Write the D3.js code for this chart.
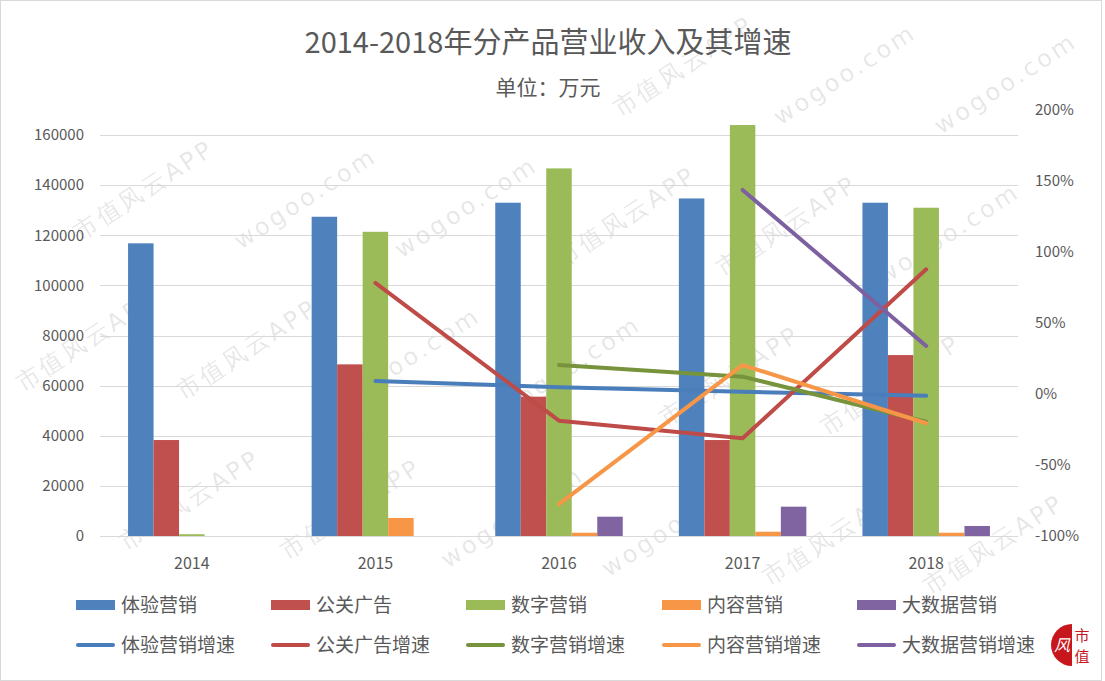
<!DOCTYPE html>
<html>
<head>
<meta charset="utf-8">
<script src="https://cdn.jsdelivr.net/npm/d3@7"></script>
<style>
  body { margin: 0; background: #fff; }
  svg { display: block; font-family: "Noto Sans CJK SC", "Noto Sans", sans-serif; }
</style>
</head>
<body>
<svg id="chart" width="1105" height="681"></svg>
<script>
// categories
var years = ["2014", "2015", "2016", "2017", "2018"];

// bar series, 万元
var barNames = ["体验营销", "公关广告", "数字营销", "内容营销", "大数据营销"];
var tiyan    = [116800, 127400, 133000, 134700, 133000];
var gongguan = [38300, 68500, 55600, 38300, 72200];
var shuzi    = [700, 121400, 146700, 164000, 131000];
var neirong  = [0, 7200, 1300, 1700, 1300];
var dashuju  = [0, 0, 7700, 11700, 4000];

// growth series, %
var lineNames = ["体验营销增速", "公关广告增速", "数字营销增速", "内容营销增速", "大数据营销增速"];
var tiyanG    = [null, 9.2, 4.7, 1.6, -1.2];
var gongguanG = [null, 78.2, -18.8, -31.2, 87.8];
var shuziG    = [null, null, 20.4, 12.2, -19.5];
var neirongG  = [null, null, -77.5, 20.4, -20.6];
var dashujuG  = [null, null, null, 143.7, 33.8];

var leftTicks = [0, 20000, 40000, 60000, 80000, 100000, 120000, 140000, 160000];
var rightTicks = [-100, -50, 0, 50, 100, 150, 200];

var barColors  = ["#4f81bd", "#c0504d", "#9bbb59", "#f79646", "#8064a2"];
var lineColors = ["#4a7ebb", "#be4b48", "#77933c", "#f79646", "#7d60a0"];

var barData = [tiyan, gongguan, shuzi, neirong, dashuju];
var lineData = [tiyanG, gongguanG, shuziG, neirongG, dashujuG];

const svg = d3.select("#chart");
const W = 1105, H = 681;
const plot = {left: 100, right: 1018, top: 110, bottom: 536};
const textColor = "#595959";

svg.append("rect").attr("width", W).attr("height", H).attr("fill", "#fff");

// watermark (drawn first, under the chart)
const wm = svg.append("g").attr("pointer-events", "none")
  .attr("transform", "rotate(-33 552 340)");
for (let r = -4; r < 9; r++) {
  for (let c = -3; c < 7; c++) {
    const wx = c * 260 + (r % 2 ? 130 : 0) - 50;
    const wy = r * 95;
    wm.append("text").attr("x", wx).attr("y", wy)
      .attr("fill", "#000").attr("fill-opacity", 0.11)
      .style("font-size", "24px").style("letter-spacing", "3px")
      .style("font-family", "DejaVu Sans")
      .text((r + c) % 2 === 0 ? "wogoo.com" : "市值风云APP");
  }
}
// keep only the marks that sit fully on the canvas
wm.selectAll("text").each(function() {
  const b = this.getBoundingClientRect();
  if (b.left < 2 || b.top < 2 || b.right > W - 6 || b.bottom > H - 2) d3.select(this).remove();
});

// scales
const x0 = d3.scaleBand().domain(years).range([plot.left, plot.right]);
const groupW = 127.5;
const x1 = d3.scaleBand().domain(d3.range(barNames.length)).range([0, groupW]);
const yL = d3.scaleLinear().domain([0, 170000]).range([plot.bottom, plot.top]);
const yR = d3.scaleLinear().domain([-100, 200]).range([plot.bottom, plot.top]);

// gridlines
svg.append("g").selectAll("line")
  .data(leftTicks)
  .join("line")
    .attr("x1", plot.left).attr("x2", plot.right)
    .attr("y1", d => Math.round(yL(d)) + 0.5).attr("y2", d => Math.round(yL(d)) + 0.5)
    .attr("stroke", "#d9d9d9").attr("stroke-width", 1);

// left axis labels
const axL = d3.axisLeft(yL).tickValues(leftTicks).tickSize(0).tickPadding(16).tickFormat(d3.format("d"));
const gL = svg.append("g").attr("transform", `translate(${plot.left},0)`).call(axL);
gL.select(".domain").remove();
gL.selectAll("text").attr("fill", textColor).style("font-size", "15px").style("font-family", "Noto Sans CJK SC");

// right axis labels
const axR = d3.axisRight(yR).tickValues(rightTicks).tickSize(0).tickPadding(17).tickFormat(d => d + "%");
const gR = svg.append("g").attr("transform", `translate(${plot.right},0)`).call(axR);
gR.select(".domain").remove();
gR.selectAll("text").attr("fill", textColor).style("font-size", "15px").style("font-family", "Noto Sans CJK SC");

// x axis labels
const axX = d3.axisBottom(x0).tickSize(0).tickPadding(22);
const gX = svg.append("g").attr("transform", `translate(0,${plot.bottom})`).call(axX);
gX.select(".domain").remove();
gX.selectAll("text").attr("fill", textColor).style("font-size", "16px").style("font-family", "Noto Sans CJK SC");

// bars
const bars = svg.append("g");
barData.forEach((vals, si) => {
  bars.append("g").attr("fill", barColors[si])
    .selectAll("rect")
    .data(vals.map((v, i) => ({year: years[i], v: v})))
    .join("rect")
      .attr("x", d => x0(d.year) + (x0.bandwidth() - groupW) / 2 + x1(si))
      .attr("width", x1.bandwidth())
      .attr("y", d => yL(d.v))
      .attr("height", d => plot.bottom - yL(d.v));
});

// lines
const line = d3.line()
  .defined(d => d.v !== null)
  .x(d => x0(d.year) + x0.bandwidth() / 2)
  .y(d => yR(d.v));
lineData.forEach((vals, si) => {
  svg.append("path")
    .datum(vals.map((v, i) => ({year: years[i], v: v})))
    .attr("d", line)
    .attr("fill", "none")
    .attr("stroke", lineColors[si])
    .attr("stroke-width", 4)
    .attr("stroke-linecap", "round")
    .attr("stroke-linejoin", "round");
});

// title
svg.append("text").attr("x", 548).attr("y", 53).attr("text-anchor", "middle")
  .attr("fill", textColor).style("font-size", "29px").text("2014-2018年分产品营业收入及其增速");
svg.append("text").attr("x", 548).attr("y", 95).attr("text-anchor", "middle")
  .attr("fill", textColor).style("font-size", "21px").text("单位：万元");

// legend
const legX = [76, 271, 466, 662, 857];
const leg = svg.append("g");
barNames.forEach((n, i) => {
  leg.append("rect").attr("x", legX[i]).attr("y", 600).attr("width", 39).attr("height", 10).attr("fill", barColors[i]);
  leg.append("text").attr("x", legX[i] + 45).attr("y", 612).attr("fill", textColor)
    .style("font-size", "19px").text(n);
});
lineNames.forEach((n, i) => {
  leg.append("line").attr("x1", legX[i] + 2).attr("x2", legX[i] + 37).attr("y1", 645).attr("y2", 645)
    .attr("stroke", lineColors[i]).attr("stroke-width", 4).attr("stroke-linecap", "round");
  leg.append("text").attr("x", legX[i] + 45).attr("y", 652).attr("fill", textColor)
    .style("font-size", "19px").text(n);
});

// logo
svg.append("path").attr("d", "M1072,624 A21,21 0 0 0 1072,666 Z").attr("fill", "#c8161d");
svg.append("text").attr("x", 1062).attr("y", 651).attr("text-anchor", "middle").attr("fill", "#fff")
  .style("font-size", "16px").style("font-style", "italic").text("风");
svg.append("text").attr("x", 1082).attr("y", 641).attr("text-anchor", "middle").attr("fill", "#c8161d")
  .style("font-size", "15px").text("市");
svg.append("text").attr("x", 1082).attr("y", 662).attr("text-anchor", "middle").attr("fill", "#c8161d")
  .style("font-size", "15px").text("值");

// frame
svg.append("rect").attr("x", 0.5).attr("y", 0.5).attr("width", 1101).attr("height", H - 1)
  .attr("fill", "none").attr("stroke", "#d9d9d9");
</script>
</body>
</html>
